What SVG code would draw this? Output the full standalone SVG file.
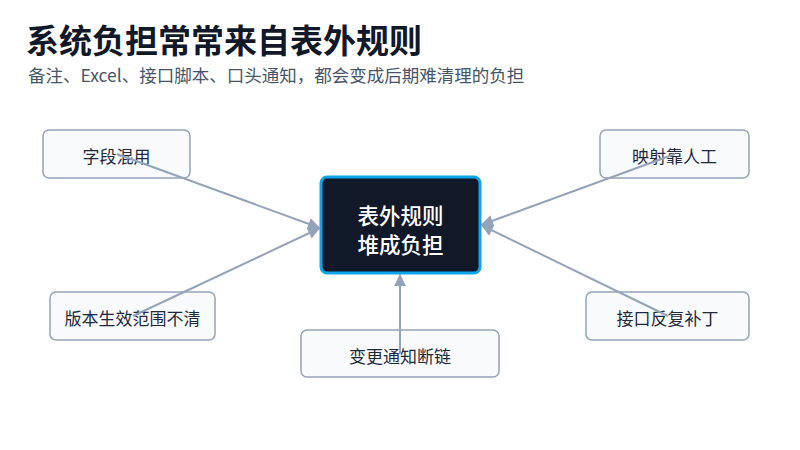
<svg xmlns="http://www.w3.org/2000/svg" width="800" height="450" viewBox="0 0 800 450">
<style>
text{font-family:"Noto Sans CJK SC","Liberation Sans",sans-serif}
.n rect{fill:#f8fafc;stroke:#94a3b8;stroke-width:1.5}
.n text{font-size:17px;fill:#1e293b;text-anchor:middle;dominant-baseline:central}
.c line{stroke:#94a3b8;stroke-width:2;marker-end:url(#a)}
</style>
<defs><marker id="a" viewBox="0 0 10 10" refX="10" refY="5" markerWidth="14" markerHeight="12" orient="auto" markerUnits="userSpaceOnUse"><path d="M0,0L10,5L0,10z" fill="#94a3b8"/></marker></defs>
<rect width="800" height="450" fill="#fff"/>
<text x="26" y="53" font-size="33" font-weight="bold" fill="#111827">系统负担常常来自表外规则</text>
<text x="28" y="82" font-size="17.5" fill="#475569">备注、Excel、接口脚本、口头通知，都会变成后期难清理的负担</text>
<g id="center"><rect x="321" y="177" width="159" height="96" rx="6" fill="#111827" stroke="#0ea5e9" stroke-width="3"/>
<text x="400.5" y="214" font-size="21.5" font-weight="500" fill="#fff" text-anchor="middle" dominant-baseline="central">表外规则</text>
<text x="400.5" y="243" font-size="21.5" font-weight="500" fill="#fff" text-anchor="middle" dominant-baseline="central">堆成负担</text></g>
<g id="n1" class="n"><rect x="43" y="130" width="147" height="48" rx="6"/><text x="116.5" y="155">字段混用</text></g>
<g id="n2" class="n"><rect x="600" y="130" width="149" height="48" rx="6"/><text x="674.5" y="155">映射靠人工</text></g>
<g id="n3" class="n"><rect x="50" y="292" width="165" height="48" rx="6"/><text x="132.5" y="317">版本生效范围不清</text></g>
<g id="n4" class="n"><rect x="586" y="292" width="163" height="48" rx="6"/><text x="667.5" y="317">接口反复补丁</text></g>
<g id="n5" class="n"><rect x="301" y="330" width="198" height="47" rx="6"/><text x="400" y="355">变更通知断链</text></g>
<g id="connectors" class="c">
<line x1="117" y1="154" x2="320" y2="228"/>
<line x1="675" y1="154" x2="481" y2="225"/>
<line x1="133" y1="316" x2="320" y2="228"/>
<line x1="668" y1="316" x2="481" y2="225"/>
<line x1="400" y1="354" x2="400" y2="274"/>
</g>
</svg>
